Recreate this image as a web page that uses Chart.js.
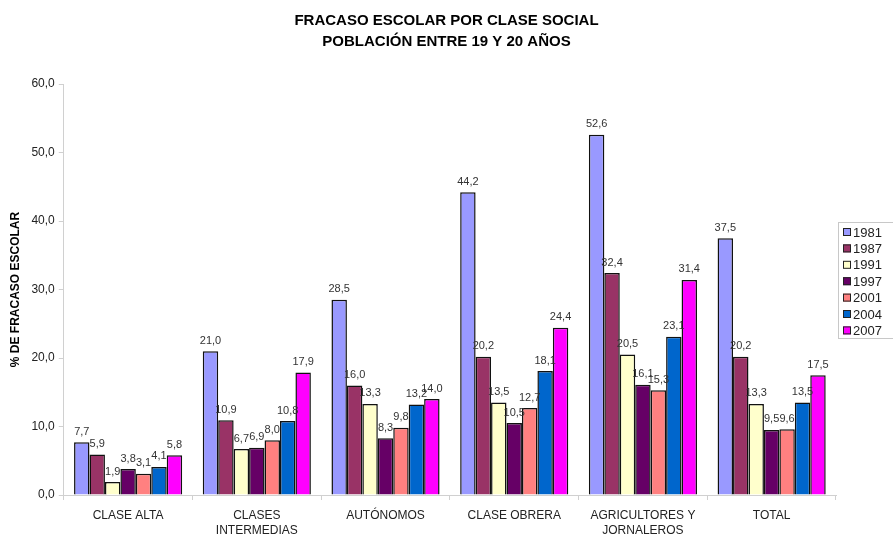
<!DOCTYPE html>
<html>
<head>
<meta charset="utf-8">
<script src="https://cdn.jsdelivr.net/npm/chart.js@4"></script>
<style>
  body { margin: 0; background: #fff; }
  #wrap { width: 893px; height: 534px; }
</style>
</head>
<body>
<div id="wrap"><canvas id="chart" width="893" height="534"></canvas></div>
<script>
// datos
const categories = ['CLASE ALTA', ['CLASES', 'INTERMEDIAS'], 'AUTÓNOMOS', 'CLASE OBRERA', ['AGRICULTORES Y', 'JORNALEROS'], 'TOTAL'];
const years = ['1981', '1987', '1991', '1997', '2001', '2004', '2007'];
const v1981 = [7.7, 21.0, 28.5, 44.2, 52.6, 37.5];
const v1987 = [5.9, 10.9, 16.0, 20.2, 32.4, 20.2];
const v1991 = [1.9, 6.7, 13.3, 13.5, 20.5, 13.3];
const v1997 = [3.8, 6.9, 8.3, 10.5, 16.1, 9.5];
const v2001 = [3.1, 8.0, 9.8, 12.7, 15.3, 9.6];
const v2004 = [4.1, 10.8, 13.2, 18.1, 23.1, 13.5];
const v2007 = [5.8, 17.9, 14.0, 24.4, 31.4, 17.5];
const colors = ['#9999FF', '#993366', '#FFFFCC', '#660066', '#FF8080', '#0066CC', '#FF00FF'];
const titleLines = ['FRACASO ESCOLAR POR CLASE SOCIAL', 'POBLACIÓN ENTRE 19 Y 20 AÑOS'];

const series = [v1981, v1987, v1991, v1997, v2001, v2004, v2007];
const FONT = '"Liberation Sans", Arial, sans-serif';

function fmt(v) {
    return v.toFixed(1).replace('.', ',');
}

// titulo centrado en todo el lienzo
const pageTitle = {
    id: 'pageTitle',
    afterDraw(chart) {
        const ctx = chart.ctx;
        ctx.save();
        ctx.font = 'bold 15px ' + FONT;
        ctx.fillStyle = '#000';
        ctx.textAlign = 'center';
        ctx.textBaseline = 'middle';
        titleLines.forEach((t, i) => ctx.fillText(t, chart.width / 2, 21 + i * 21));
        ctx.restore();
    }
};

// etiquetas de valor encima de cada barra
const valueLabels = {
    id: 'valueLabels',
    afterDatasetsDraw(chart) {
        const ctx = chart.ctx;
        ctx.save();
        ctx.font = '11px ' + FONT;
        ctx.fillStyle = '#333';
        ctx.textAlign = 'center';
        ctx.textBaseline = 'bottom';
        chart.data.datasets.forEach((ds, i) => {
            chart.getDatasetMeta(i).data.forEach((bar, j) => {
                ctx.fillText(fmt(ds.data[j]), bar.x, bar.y - 5);
            });
        });
        ctx.restore();
    }
};

// leyenda con recuadro a la derecha
const boxLegend = {
    id: 'boxLegend',
    afterDraw(chart) {
        const ctx = chart.ctx;
        const x0 = 838, y0 = 222, rowH = 16.4;
        ctx.save();
        ctx.strokeStyle = '#c8c8c8';
        ctx.lineWidth = 1;
        ctx.strokeRect(x0 + 0.5, y0 + 0.5, 60, 116);
        ctx.font = '13px ' + FONT;
        ctx.textBaseline = 'middle';
        chart.data.datasets.forEach((ds, i) => {
            const cy = y0 + 10 + i * rowH;
            ctx.fillStyle = ds.backgroundColor;
            ctx.fillRect(x0 + 5, cy - 4, 8, 8);
            ctx.strokeStyle = '#222';
            ctx.strokeRect(x0 + 5.5, cy - 3.5, 7, 7);
            ctx.fillStyle = '#222';
            ctx.fillText(ds.label, x0 + 15, cy + 1);
        });
        ctx.restore();
    }
};

new Chart(document.getElementById('chart'), {
    type: 'bar',
    data: {
        labels: categories,
        datasets: series.map((d, i) => ({
            label: years[i],
            data: d,
            backgroundColor: colors[i],
            borderColor: '#111',
            borderWidth: 1.5,
            barPercentage: 1,
            categoryPercentage: 0.84
        }))
    },
    options: {
        responsive: false,
        animation: false,
        layout: { padding: { left: 5, right: 57, top: 84, bottom: -12 } },
        plugins: {
            legend: { display: false },
            tooltip: { enabled: false },
            title: { display: false }
        },
        scales: {
            x: {
                grid: {
                    display: true,
                    drawOnChartArea: false,
                    offset: true,
                    tickLength: 5,
                    color: '#d0d0d0'
                },
                border: { color: '#d0d0d0' },
                ticks: {
                    color: '#222',
                    font: { family: FONT, size: 12, lineHeight: 1.25 },
                    maxRotation: 0,
                    padding: 8
                }
            },
            y: {
                min: 0,
                max: 60,
                grid: {
                    display: true,
                    drawOnChartArea: false,
                    tickLength: 5,
                    color: '#d0d0d0'
                },
                border: { color: '#d0d0d0' },
                ticks: {
                    stepSize: 10,
                    color: '#222',
                    font: { family: FONT, size: 12 },
                    padding: 4,
                    callback: v => fmt(v)
                },
                title: {
                    display: true,
                    text: '% DE FRACASO ESCOLAR',
                    color: '#000',
                    font: { family: FONT, size: 12, weight: 'bold' },
                    padding: { top: 3, bottom: 5 }
                }
            }
        }
    },
    plugins: [valueLabels, boxLegend, pageTitle]
});
</script>
</body>
</html>
